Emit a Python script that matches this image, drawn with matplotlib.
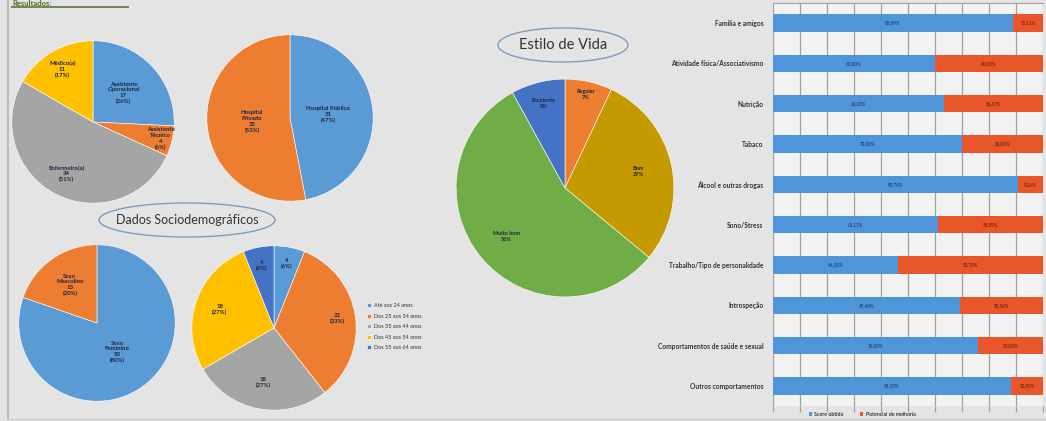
import matplotlib
matplotlib.use("Agg")
import matplotlib.pyplot as plt
from matplotlib.patches import Ellipse
import numpy as np

# ---------------- data ----------------
prof_labels = ["Assistente\nOperacional", "Assistente\nTécnico", "Enfermeiro(a)", "Médico(a)"]
prof_counts = [17, 4, 34, 11]
prof_pct = [26, 6, 51, 17]

hosp_labels = ["Hospital Público", "Hospital\nPrivado"]
hosp_counts = [31, 35]
hosp_pct = [47, 53]

sexo_labels = ["Sexo\nFeminino", "Sexo\nMasculino"]
sexo_counts = [53, 13]
sexo_pct = [80, 20]

idade_labels = ["Até aos 24 anos", "Dos 25 aos 34 anos", "Dos 35 aos 44 anos",
                "Dos 45 aos 54 anos", "Dos 55 aos 64 anos"]
idade_counts = [4, 22, 18, 18, 4]
idade_pct = [6, 33, 27, 27, 6]

estilo_labels = ["Regular", "Bom", "Muito bom", "Excelente"]
estilo_pct = [7, 29, 56, 8]

bar_categories = ["Família e amigos", "Atividade física/Associativismo", "Nutrição", "Tabaco",
                  "Álcool e outras drogas", "Sono/Stress", "Trabalho/Tipo de personalidade",
                  "Introspeção", "Comportamentos de saúde e sexual", "Outros comportamentos"]
score_obtido = [88.89, 60.00, 63.33, 70.00, 90.74, 61.11, 46.30, 69.44, 76.00, 88.10]
potencial = [11.11, 40.00, 36.67, 30.00, 9.26, 38.89, 53.70, 30.56, 24.00, 11.90]
bar_series = ["Score obtido", "Potencial de melhoria"]

# ---------------- style ----------------
W, H = 1046, 421
BG = "#e4e4e4"
BLUE = "#5b9bd5"
ORANGE = "#ed7d31"
GRAY = "#a5a5a5"
YELLOW = "#ffc000"
DBLUE = "#4472c4"
GOLD = "#c49a00"
GREEN = "#70ad47"
TXT = "#1c2540"
plt.rcParams["font.family"] = ["Lato", "DejaVu Sans"]

fig = plt.figure(figsize=(W / 100, H / 100), dpi=100, facecolor=BG)


def ax_px(x, y, w, h, **kw):
    return fig.add_axes([x / W, 1 - (y + h) / H, w / W, h / H], **kw)


def draw_pie(rect, values, labels, colors, dists, fs=4.3):
    ax = ax_px(*rect)
    wedges, texts = ax.pie(values, colors=colors, startangle=90, counterclock=False,
                           labels=labels, labeldistance=0.6,
                           wedgeprops=dict(edgecolor="white", linewidth=0.4),
                           textprops=dict(fontsize=fs, fontweight="bold", color=TXT))
    for w, t, d in zip(wedges, texts, dists):
        th = np.deg2rad((w.theta1 + w.theta2) / 2)
        t.set_position((d * np.cos(th), d * np.sin(th)))
        t.set_ha("center")
        t.set_va("center")
        t.set_multialignment("center")
        t.set_linespacing(1.15)
    ax.set_xlim(-1.01, 1.01)
    ax.set_ylim(-1.01, 1.01)
    ax.set_aspect("equal")
    ax.axis("off")
    return ax, wedges


# overlay for frame, title, ellipses
ov = ax_px(0, 0, W, H)
ov.set_xlim(0, W)
ov.set_ylim(H, 0)
ov.axis("off")
ov.plot([8, 8], [0, 419], color="#b5b5b5", lw=1.2)
ov.plot([8, W], [419, 419], color="#c8c8c8", lw=1.0)
ov.text(12, 0.5, "Resultados:", fontsize=5.5, fontweight="bold", color="#4e6b34",
        ha="left", va="top")
ov.plot([12, 128], [6.5, 6.5], color="#6d8a4f", lw=1.4)
ov.add_patch(Ellipse((187, 220), 176, 34, fill=False, edgecolor="#7f9cbc", lw=1.0))
ov.text(187, 220, "Dados Sociodemográficos", fontsize=9, color="#333333",
        ha="center", va="center")
ov.add_patch(Ellipse((563, 45), 130, 34, fill=False, edgecolor="#7f9cbc", lw=1.0))
ov.text(563, 45, "Estilo de Vida", fontsize=10.5, color="#333333", ha="center", va="center")

# pie 1: profissão
draw_pie((11, 40, 164, 164), prof_counts,
         [f"{l}\n{c}\n({p}%)" for l, c, p in zip(prof_labels, prof_counts, prof_pct)],
         [BLUE, ORANGE, GRAY, YELLOW], [0.52, 0.86, 0.72, 0.75])

# pie 2: hospital
draw_pie((206, 34, 168, 168), hosp_counts,
         [f"{l}\n{c}\n({p}%)" for l, c, p in zip(hosp_labels, hosp_counts, hosp_pct)],
         [BLUE, ORANGE], [0.46, 0.46])

# pie 3: sexo
draw_pie((18, 244, 158, 158), sexo_counts,
         [f"{l}\n{c}\n({p}%)" for l, c, p in zip(sexo_labels, sexo_counts, sexo_pct)],
         [BLUE, ORANGE], [0.45, 0.6])

# pie 4: idade
ax4, w4 = draw_pie((191, 245, 166, 166), idade_counts,
                   [f"{c}\n({p}%)" for c, p in zip(idade_counts, idade_pct)],
                   [BLUE, ORANGE, GRAY, YELLOW, DBLUE], [0.8, 0.78, 0.68, 0.7, 0.78])
ax4.legend(w4, idade_labels, loc="upper left", bbox_to_anchor=(362 / W, 1 - 298 / H),
           bbox_transform=fig.transFigure, frameon=False, fontsize=4,
           handlelength=0.7, handleheight=0.7, handletextpad=0.5, labelspacing=1.0,
           labelcolor="#333333")

# pie 5: estilo de vida
draw_pie((455, 78, 220, 220), estilo_pct,
         [f"{l}\n{p}%" for l, p in zip(estilo_labels, estilo_pct)],
         [ORANGE, GOLD, GREEN, DBLUE], [0.88, 0.69, 0.7, 0.8], fs=4.0)

# bar chart
axb = ax_px(773, 3, 270, 403)
axb.set_facecolor("#f2f2f2")
y = np.arange(len(bar_categories))
b1 = axb.barh(y, score_obtido, height=0.43, color="#4e95d9", label=bar_series[0], zorder=3)
b2 = axb.barh(y, potencial, left=score_obtido, height=0.43, color="#e8562a",
              label=bar_series[1], zorder=3)
for i in range(len(y)):
    axb.text(score_obtido[i] / 2, y[i], f"{score_obtido[i]:.2f}%".replace(".", ","),
             fontsize=3.3, color="#1c2a55", ha="center", va="center", zorder=4)
    axb.text(score_obtido[i] + potencial[i] / 2, y[i], f"{potencial[i]:.2f}%".replace(".", ","),
             fontsize=3.3, color="#4a1a08", ha="center", va="center", zorder=4)
axb.set_xlim(0, 100)
axb.set_ylim(len(y) - 0.5, -0.5)
axb.set_xticks(np.arange(0, 101, 10))
axb.set_xticklabels([])
axb.tick_params(axis="x", length=4, color="#a0a0a0", width=0.9)
axb.set_yticks(y)
axb.set_yticklabels(bar_categories, fontsize=4.8, fontweight="bold", color="#333333")
axb.tick_params(axis="y", length=0, pad=7)
axb.grid(axis="x", color="#a0a0a0", lw=0.9, zorder=0)
for s in ["left", "right", "bottom"]:
    axb.spines[s].set_visible(False)
axb.spines["top"].set_color("#a0a0a0")
axb.legend(loc="center", bbox_to_anchor=(862 / W, 1 - 414 / H), bbox_transform=fig.transFigure,
           ncol=2, frameon=False, fontsize=3.8, handlelength=0.7, handleheight=0.7,
           columnspacing=3, handletextpad=0.4)

fig.savefig("out.png", dpi=100, facecolor=BG)
